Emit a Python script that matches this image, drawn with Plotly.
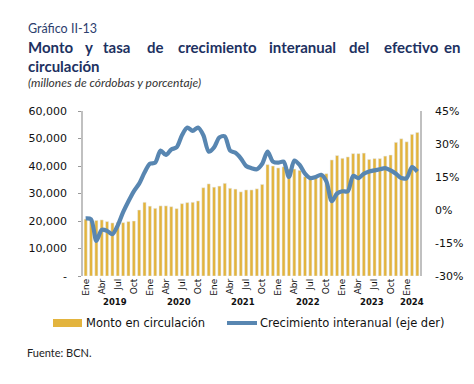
import plotly.graph_objects as go

# ---- data ----
years = [2019, 2020, 2021, 2022, 2023, 2024]
month_names = ["Ene", "Feb", "Mar", "Abr", "May", "Jun",
               "Jul", "Ago", "Sep", "Oct", "Nov", "Dic"]
months_per_year = [12, 12, 12, 12, 12, 3]

monto = [20700, 20100, 20200, 20400, 19800, 19300, 19500, 19400, 19800, 20000, 24000, 26800,
         25400, 24600, 25500, 25500, 25200, 24500, 26300, 26700, 26800, 27300, 32100, 33500,
         32300, 32700, 33700, 31900, 31600, 30600, 31300, 31300, 31700, 33300, 40500, 40000,
         39300, 39700, 38900, 38900, 38400, 36100, 35600, 36100, 36500, 37200, 42200, 43800,
         42800, 43300, 44500, 44500, 44700, 42400, 42700, 42700, 43600, 44000, 48600, 49900,
         48800, 51500, 52200]

crecimiento = [-3.8, -4.2, -14.0, -9.0, -9.5, -11.0, -7.0, -1.0, 4.0, 8.5, 12.0, 17.0,
               21.0, 21.5, 27.0, 25.0, 27.5, 28.5, 34.0, 37.5, 36.0, 37.5, 34.0, 26.5,
               28.5, 33.0, 33.5, 27.0, 26.0, 23.5, 20.0, 19.0, 18.5, 21.0, 26.5, 22.0,
               21.5, 22.0, 15.0, 22.5, 20.5, 16.5, 14.5, 15.0, 16.0, 13.0, 4.0, 7.5,
               8.5, 8.5, 15.5, 14.5, 16.5, 17.5, 18.0, 18.5, 19.0, 18.0, 16.5, 14.5,
               14.5, 19.5, 17.5]

left_ticks = [0, 10000, 20000, 30000, 40000, 50000, 60000]
left_text = ["-", "10,000", "20,000", "30,000", "40,000", "50,000", "60,000"]
right_ticks = [-30, -15, 0, 15, 30, 45]
right_text = ["-30%", "-15%", "0%", "15%", "30%", "45%"]
quarter_labels = ["Ene", "Abr", "Jul", "Oct"]

# ---- derived ----
x = list(range(len(monto)))
labels = []
year_centers = []
start = 0
for y, n in zip(years, months_per_year):
    for m in range(n):
        labels.append(f"{month_names[m]} {y}")
    year_centers.append((start + start + n - 1) / 2)
    start += n

tickvals = [i for i in x if i % 3 == 0]
ticktext = [quarter_labels[(i % 12) // 3] for i in tickvals]

BAR = "#e3b43e"
LINE = "#5886b1"
NAVY = "#1d3161"
TF = "DejaVu Sans"

# page body has an 8px margin: compensate so the picture lands where intended
OFF = 8
W, H = 474 - OFF, 384 - OFF
L, R, T, B = 83, 420, 111, 276   # plot area in screen pixels

fig = go.Figure()
fig.add_trace(go.Bar(x=x, y=monto, name="Monto en circulación", marker_color=BAR,
                     hovertext=labels, showlegend=False, yaxis="y"))
fig.add_trace(go.Scatter(x=x, y=crecimiento, name="Crecimiento interanual (eje der)",
                         mode="lines", line=dict(color=LINE, width=4.2, shape="spline", smoothing=0.8),
                         hovertext=labels, showlegend=False, yaxis="y2"))

fig.update_layout(
    width=W, height=H,
    margin=dict(l=L - OFF, r=W - (R - OFF), t=T - OFF, b=H - (B - OFF), pad=0),
    paper_bgcolor="white", plot_bgcolor="white",
    bargap=0.42,
    xaxis=dict(range=[-0.5, len(x) - 0.5], tickvals=tickvals, ticktext=ticktext,
               tickangle=-90, tickfont=dict(family=TF, size=9, color="#111"),
               showgrid=False, zeroline=False, showline=False, ticks="",
               ticklabelstandoff=0),
    yaxis=dict(range=[0, 60000], tickvals=left_ticks, ticktext=left_text,
               tickfont=dict(family=TF, size=11, color="#111"),
               showgrid=False, zeroline=False, showline=True, linecolor="#c0c0c0",
               linewidth=1.5, ticks="outside", ticklen=3, tickcolor="#999",
               ticklabelstandoff=9),
    yaxis2=dict(range=[-30, 45], tickvals=right_ticks, ticktext=right_text,
                overlaying="y", side="right",
                tickfont=dict(family=TF, size=11, color="#111"),
                showgrid=False, zeroline=False, showline=True, linecolor="#c0c0c0",
                linewidth=1.5, ticks="", ticklabelstandoff=11),
)

ann = []
# year labels
for yv, c in zip(years, year_centers):
    ann.append(dict(x=c, y=0, xref="x", yref="paper", yshift=-26, text=str(yv),
                    showarrow=False, xanchor="center", yanchor="middle",
                    font=dict(family=TF, size=8.5, color="#111", weight="bold")))

def fx(xp): return (xp - L) / (R - L)
def fy(yp): return (B - yp) / (B - T)

def paper_ann(text, xp, yp, font, xanchor="left"):
    ann.append(dict(text=text, x=fx(xp), y=fy(yp), xref="paper", yref="paper",
                    showarrow=False, xanchor=xanchor, yanchor="middle", font=font))

TITLE_FONT = "Lato"
paper_ann("Gráfico II-13", 26, 28, dict(family=TITLE_FONT, size=12.5, color="#2c3e6e"))
words = ["Monto", "y", "tasa", "de", "crecimiento", "interanual", "del", "efectivo", "en"]
word_x = [26, 83, 101, 145, 176, 267, 347, 382, 442]
for w, wx in zip(words, word_x):
    paper_ann(w, wx, 47, dict(family=TITLE_FONT, size=15, color=NAVY, weight="bold"))
paper_ann("circulación", 26, 66, dict(family=TITLE_FONT, size=15, color=NAVY, weight="bold"))
paper_ann("<i>(millones de córdobas y porcentaje)</i>", 26, 82,
          dict(family=TITLE_FONT, size=12, color="#333"))

# legend
paper_ann("Monto en circulación", 84, 323, dict(family=TF, size=11.5, color="#111"))
paper_ann("Crecimiento interanual (eje der)", 258, 323, dict(family=TF, size=11.5, color="#111"))
paper_ann("Fuente: BCN.", 25, 352, dict(family=TITLE_FONT, size=11, color="#222"))

shapes = [
    dict(type="rect", xref="paper", yref="paper",
         x0=fx(53), x1=fx(82), y0=fy(327), y1=fy(319),
         fillcolor=BAR, line=dict(width=0)),
    dict(type="line", xref="paper", yref="paper",
         x0=fx(227), x1=fx(257), y0=fy(323), y1=fy(323),
         line=dict(color=LINE, width=4)),
]
fig.update_layout(annotations=ann, shapes=shapes)

fig.write_html("out.html")
